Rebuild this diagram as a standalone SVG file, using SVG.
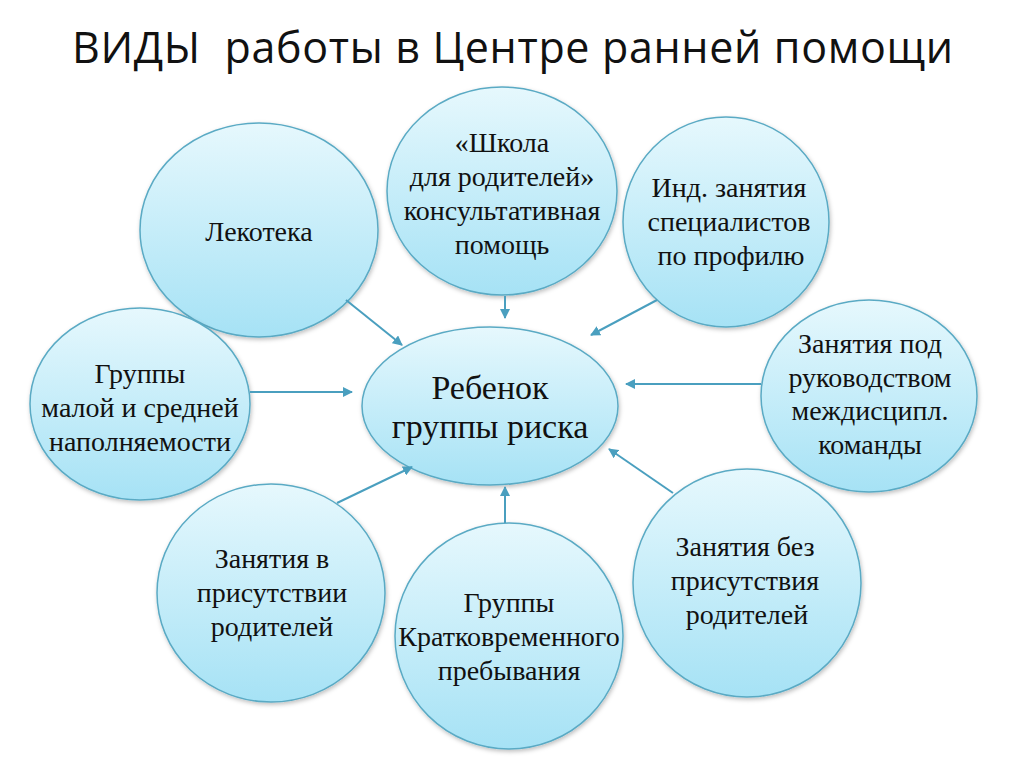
<svg xmlns="http://www.w3.org/2000/svg" width="1024" height="767" viewBox="0 0 1024 767">
<defs>
<linearGradient id="g" x1="0" y1="0" x2="0" y2="1">
<stop offset="0" stop-color="#e6f8fd"/>
<stop offset="1" stop-color="#a6e2f5"/>
</linearGradient>
<filter id="sh" x="-10%" y="-10%" width="125%" height="125%">
<feDropShadow dx="1" dy="2" stdDeviation="2" flood-color="#000" flood-opacity="0.25"/>
</filter>
<marker id="ah" markerWidth="10" markerHeight="10" refX="9" refY="5" orient="auto" markerUnits="userSpaceOnUse">
<path d="M0,0 L10,5 L0,10 Z" fill="#4a9fbf"/>
</marker>
</defs>
<style>
.n{fill:url(#g);stroke:#5aaac4;stroke-width:1.5;filter:url(#sh)}
.t{font-family:"Liberation Serif","Times New Roman",serif;font-size:28px;fill:#111;text-anchor:middle}
.c{font-size:34px}
.ttl{font-family:"Open Sans","Liberation Sans",sans-serif;font-size:43px;fill:#111;white-space:pre}
.e{stroke:#4a9fbf;stroke-width:2;fill:none;marker-end:url(#ah)}
</style>
<rect width="1024" height="767" fill="#fff"/>
<text class="ttl" x="72" y="63" textLength="881">ВИДЫ  работы в Центре ранней помощи</text>

<g id="n-lekoteka">
<ellipse class="n" cx="259" cy="230" rx="119" ry="107"/>
<text class="t" x="259" y="241">Лекотека</text>
</g>
<g id="n-shkola">
<ellipse class="n" cx="502" cy="191" rx="115" ry="104"/>
<text class="t" x="502" y="152">«Школа</text>
<text class="t" x="502" y="186">для родителей»</text>
<text class="t" x="502" y="220">консультативная</text>
<text class="t" x="502" y="254">помощь</text>
</g>
<g id="n-ind">
<ellipse class="n" cx="726" cy="222" rx="103" ry="105"/>
<text class="t" x="729" y="197">Инд. занятия</text>
<text class="t" x="729" y="231">специалистов</text>
<text class="t" x="731" y="265">по профилю</text>
</g>
<g id="n-pod">
<ellipse class="n" cx="869" cy="396" rx="108" ry="96"/>
<text class="t" x="870" y="353">Занятия под</text>
<text class="t" x="870" y="387">руководством</text>
<text class="t" x="870" y="420">междисципл.</text>
<text class="t" x="870" y="454">команды</text>
</g>
<g id="n-bez">
<ellipse class="n" cx="747" cy="583" rx="114" ry="114"/>
<text class="t" x="745" y="556">Занятия без</text>
<text class="t" x="745" y="590">присутствия</text>
<text class="t" x="747" y="624">родителей</text>
</g>
<g id="n-kratk">
<ellipse class="n" cx="509" cy="636" rx="114" ry="113"/>
<text class="t" x="509" y="612">Группы</text>
<text class="t" x="509" y="646">Кратковременного</text>
<text class="t" x="509" y="680">пребывания</text>
</g>
<g id="n-prisut">
<ellipse class="n" cx="271" cy="593" rx="114" ry="109"/>
<text class="t" x="272" y="568">Занятия в</text>
<text class="t" x="272" y="602">присутствии</text>
<text class="t" x="272" y="636">родителей</text>
</g>
<g id="n-gruppy">
<ellipse class="n" cx="140" cy="404" rx="110" ry="96"/>
<text class="t" x="140" y="383">Группы</text>
<text class="t" x="140" y="417">малой и средней</text>
<text class="t" x="140" y="451">наполняемости</text>
</g>
<g id="n-center">
<ellipse class="n" cx="490" cy="406" rx="128" ry="79"/>
<text class="t c" x="490" y="399">Ребенок</text>
<text class="t c" x="490" y="438">группы риска</text>
</g>

<g id="connectors">
<line class="e" x1="346" y1="300" x2="402" y2="345"/>
<line class="e" x1="505" y1="296" x2="505" y2="318"/>
<line class="e" x1="657" y1="300" x2="591" y2="335"/>
<line class="e" x1="761" y1="384" x2="626" y2="384"/>
<line class="e" x1="673" y1="493" x2="609" y2="449"/>
<line class="e" x1="505" y1="523" x2="505" y2="487"/>
<line class="e" x1="337" y1="503" x2="412" y2="467"/>
<line class="e" x1="250" y1="392" x2="352" y2="392"/>
</g>
</svg>
